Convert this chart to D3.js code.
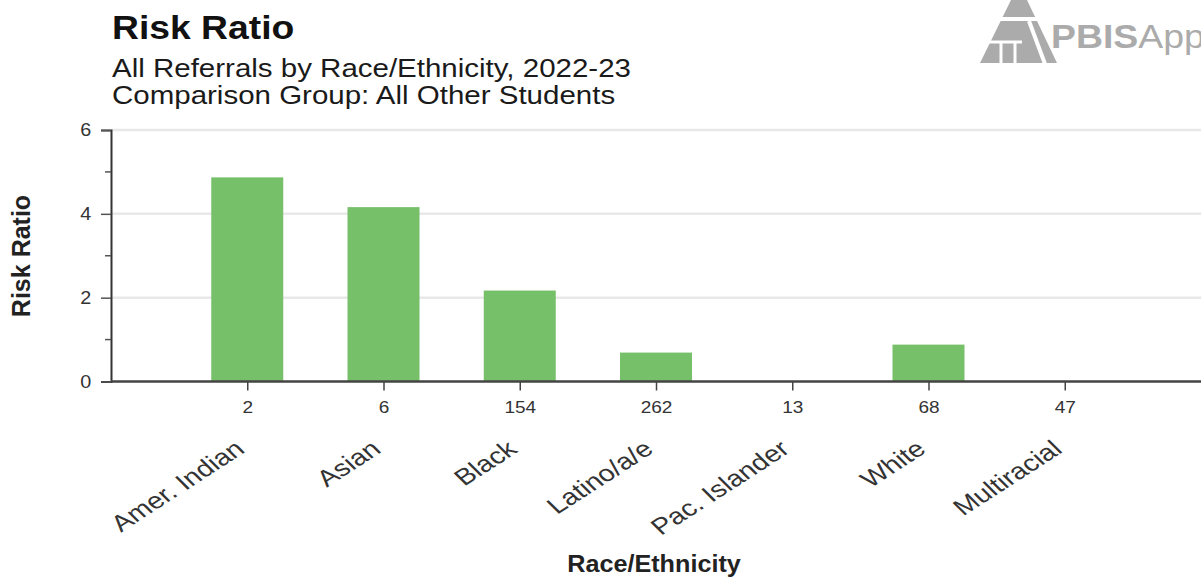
<!DOCTYPE html>
<html>
<head>
<meta charset="utf-8">
<script src="https://cdn.jsdelivr.net/npm/d3@7"></script>
<style>
  body { margin: 0; background: #fff; }
  svg { display: block; font-family: "Liberation Sans", Arial, sans-serif; }
</style>
</head>
<body>
<div id="chart"></div>
<script>
// chart data
const categories = ["Amer. Indian", "Asian", "Black", "Latino/a/e", "Pac. Islander", "White", "Multiracial"];
const counts = [2, 6, 154, 262, 13, 68, 47];
const riskRatios = [4.87, 4.16, 2.17, 0.69, 0, 0.88, 0];
const yTicks = [0, 2, 4, 6];
const yMinorTicks = [1, 3, 5];

const width = 1201, height = 582;
const plotLeft = 111, plotRight = 1201, plotTop = 130, plotBottom = 381.5;
// the source image renders text a bit wide, so stretch it horizontally
const stretch = 1.18;

const svg = d3.select("#chart").append("svg")
    .attr("width", width)
    .attr("height", height);

function wideText(px, py, sx, size, txt, weight) {
    return svg.append("text")
        .attr("transform", `translate(${px},${py}) scale(${sx},1)`)
        .attr("font-size", size + "px")
        .attr("font-weight", weight || "normal")
        .attr("fill", "#1a1a1a")
        .text(txt);
}

// titles
wideText(112, 39, 1.13, 33, "Risk Ratio", "bold").attr("fill", "#111");
wideText(112, 77, stretch, 25, "All Referrals by Race/Ethnicity, 2022-23");
wideText(112, 104, stretch, 25, "Comparison Group: All Other Students");

// logo (grey, top right), clipped at the right edge like the source
const logo = svg.append("g");
logo.append("path").attr("d", "M1011,0 L1027,0 L1057,63 L980,63 Z").attr("fill", "#ababab");
const cut = logo.append("g").attr("stroke", "#fff");
cut.append("line").attr("x1", 990).attr("x2", 1045).attr("y1", 19).attr("y2", 19).attr("stroke-width", 4);
cut.append("line").attr("x1", 984).attr("x2", 1022).attr("y1", 42).attr("y2", 42).attr("stroke-width", 3);
cut.append("line").attr("x1", 1001).attr("x2", 1001).attr("y1", 42).attr("y2", 64).attr("stroke-width", 3);
cut.append("line").attr("x1", 1015).attr("x2", 1015).attr("y1", 42).attr("y2", 64).attr("stroke-width", 3);
cut.append("line").attr("x1", 1029).attr("x2", 1045).attr("y1", 21).attr("y2", 64).attr("stroke-width", 4);
logo.append("text")
    .attr("transform", "translate(1051,48) scale(1.1,1)")
    .attr("fill", "#ababab")
    .attr("font-size", "34px").attr("font-weight", "bold").text("PBIS")
  .append("tspan").attr("font-weight", "normal").text("App");

const x = d3.scalePoint()
    .domain(categories)
    .range([plotLeft, plotRight])
    .padding(1);

const y = d3.scaleLinear()
    .domain([0, 6])
    .range([plotBottom, plotTop]);

// gridlines
svg.append("g").selectAll("line")
    .data(yTicks.filter(d => d > 0))
    .enter().append("line")
    .attr("x1", plotLeft).attr("x2", plotRight)
    .attr("y1", d => y(d)).attr("y2", d => y(d))
    .attr("stroke", "#e8e8e8").attr("stroke-width", 2.5);

// bars
const barW = 72;
svg.append("g").selectAll("rect")
    .data(categories)
    .enter().append("rect")
    .attr("x", d => x(d) - barW / 2)
    .attr("y", (d, i) => y(riskRatios[i]))
    .attr("width", barW)
    .attr("height", (d, i) => plotBottom - y(riskRatios[i]))
    .attr("fill", "#77c06a");

// y axis
const yAxis = svg.append("g")
    .attr("transform", `translate(${plotLeft},0)`)
    .call(d3.axisLeft(y).tickValues(yTicks).tickSize(10).tickPadding(8).tickFormat(d3.format("d")));
yAxis.select(".domain").attr("stroke", "#333").attr("stroke-width", 2);
yAxis.selectAll(".tick line").attr("stroke", "#555").attr("stroke-width", 1.5);
yAxis.selectAll(".tick text")
    .attr("font-size", "18px").attr("fill", "#333").attr("font-family", null)
    .attr("transform", "scale(1.1,1)");
svg.append("g").selectAll("line")
    .data(yMinorTicks)
    .enter().append("line")
    .attr("x1", plotLeft - 6).attr("x2", plotLeft)
    .attr("y1", d => y(d)).attr("y2", d => y(d))
    .attr("stroke", "#555").attr("stroke-width", 1.5);

// x axis with counts
const xAxis = svg.append("g")
    .attr("transform", `translate(0,${plotBottom})`)
    .call(d3.axisBottom(x).tickSize(9).tickPadding(10)
        .tickFormat((d, i) => counts[i]));
xAxis.select(".domain").attr("stroke", "#444").attr("stroke-width", 2.5)
    .attr("d", `M${plotLeft},0H${plotRight}`);
xAxis.selectAll(".tick line").attr("stroke", "#444").attr("stroke-width", 1.5);
xAxis.selectAll(".tick text")
    .attr("font-size", "17px").attr("fill", "#333").attr("font-family", null)
    .attr("transform", "scale(1.12,1)");

// rotated category labels
svg.append("g").selectAll("text")
    .data(categories)
    .enter().append("text")
    .attr("transform", d => `translate(${x(d) - 1},${plotBottom + 70}) scale(1.25,1) rotate(-39)`)
    .attr("text-anchor", "end")
    .attr("font-size", "23px")
    .attr("fill", "#333")
    .text(d => d);

// axis titles
svg.append("text")
    .attr("transform", "translate(654,572) scale(1.05,1)")
    .attr("text-anchor", "middle")
    .attr("font-size", "24px").attr("font-weight", "bold").attr("fill", "#222")
    .text("Race/Ethnicity");
svg.append("text")
    .attr("transform", "translate(30,256) rotate(-90)")
    .attr("text-anchor", "middle")
    .attr("font-size", "25px").attr("font-weight", "bold").attr("fill", "#222")
    .text("Risk Ratio");
</script>
</body>
</html>
